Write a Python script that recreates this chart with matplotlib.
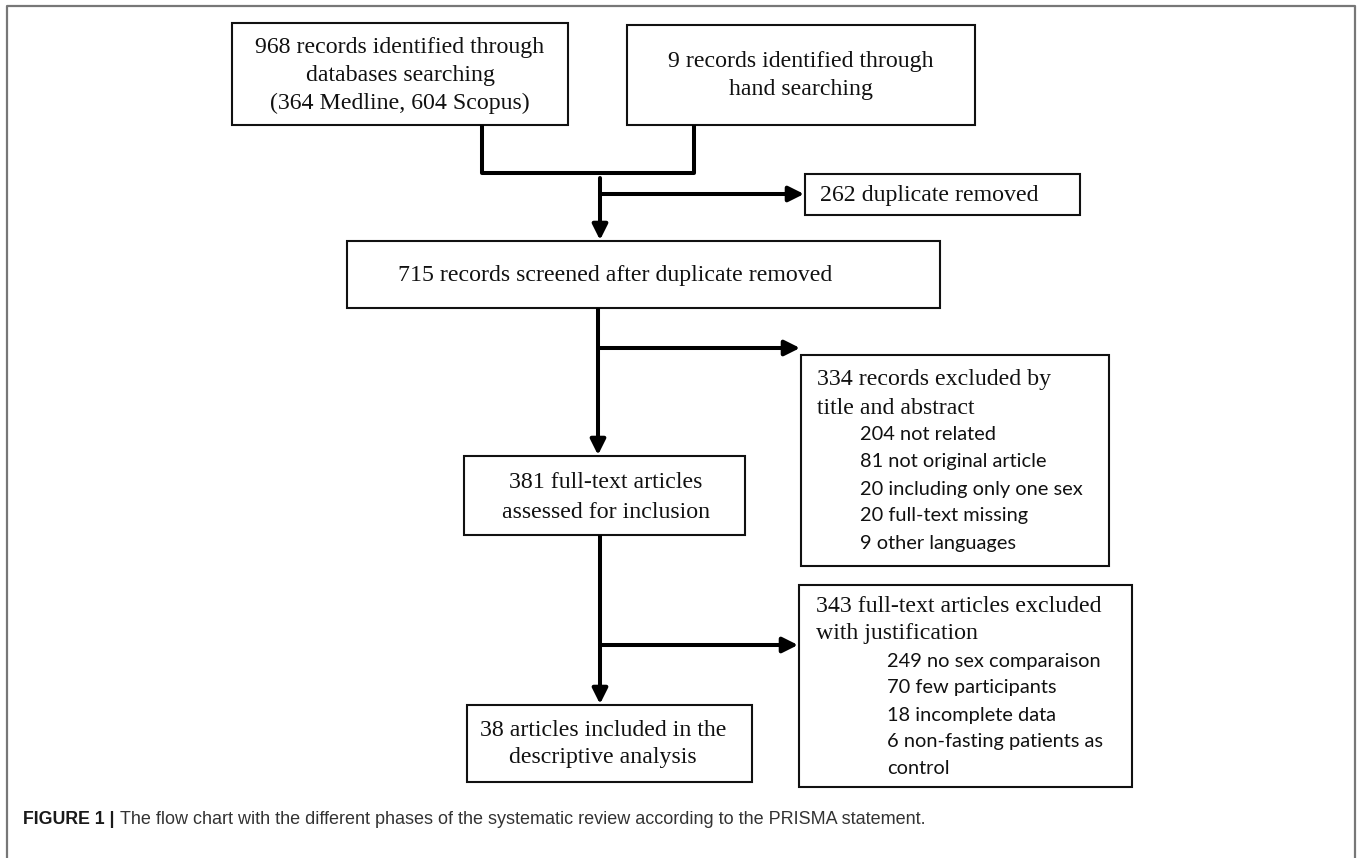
import matplotlib
matplotlib.use('Agg')
import matplotlib.pyplot as plt
from matplotlib.patches import Rectangle

# ---- content -------------------------------------------------------------
identified_db = ["968 records identified through", "databases searching",
                 "(364 Medline, 604 Scopus)"]
identified_hand = ["9 records identified through", "hand searching"]
duplicates = "262 duplicate removed"
screened = "715 records screened after duplicate removed"
fulltext = ["381 full-text articles", "assessed for inclusion"]
included = ["38 articles included in the", "descriptive analysis"]
excl1_head = ["334 records excluded by", "title and abstract"]
excl1_items = ["204 not related", "81 not original article",
               "20 including only one sex", "20 full-text missing",
               "9 other languages"]
excl2_head = ["343 full-text articles excluded", "with justification"]
excl2_items = ["249 no sex comparaison", "70 few participants",
               "18 incomplete data", "6 non-fasting patients as", "control"]
caption_bold = "FIGURE 1 |"
caption_text = ("The flow chart with the different phases of the systematic "
                "review according to the PRISMA statement.")

W, H = 1358, 858
fig = plt.figure(figsize=(W / 100, H / 100), dpi=100)
ax = fig.add_axes([0, 0, 1, 1])
ax.set_xlim(0, W); ax.set_ylim(H, 0); ax.axis('off')

SERIF = dict(family='Liberation Serif', fontsize=17.2, color='#111111')
SANS = dict(family='Lato', fontsize=14.4, color='#111111')


def box(x0, y0, x1, y1):
    ax.add_patch(Rectangle((x0, y0), x1 - x0, y1 - y0, fill=False,
                           lw=1.5, ec='#111111'))


def seg(xs, ys):
    ax.plot(xs, ys, color='black', lw=2.9, solid_capstyle='butt')


def arrow(x0, y0, x1, y1):
    ax.annotate('', xy=(x1, y1), xytext=(x0, y0),
                arrowprops=dict(arrowstyle='-|>', lw=2.9, color='black',
                                mutation_scale=23, shrinkA=0, shrinkB=0))


# outer frame (open at the bottom)
ax.plot([7, 7, 1355, 1355], [H, 6, 6, H], color='#777777', lw=1.6)

# boxes
box(232, 23, 568, 125)
box(627, 25, 975, 125)
box(805, 174, 1080, 215)
box(347, 241, 940, 308)
box(464, 456, 745, 535)
box(467, 705, 752, 782)
box(801, 355, 1109, 566)
box(799, 585, 1132, 787)

# connectors / arrows
seg([482, 482, 694, 694], [125, 173, 173, 125])
arrow(600, 178, 600, 240)
arrow(600, 194, 804, 194)
seg([598, 598], [308, 348])
arrow(598, 348, 598, 455)
arrow(598, 348, 800, 348)
seg([600, 600], [535, 645])
arrow(600, 645, 600, 704)
arrow(600, 645, 798, 645)

# box texts
for t, y in zip(identified_db, [48, 76, 103]):
    ax.text(400, y, t, ha='center', va='center', **SERIF)
for t, y in zip(identified_hand, [62, 90]):
    ax.text(801, y, t, ha='center', va='center', **SERIF)
ax.text(820, 196, duplicates, ha='left', va='center', **SERIF)
ax.text(615, 276, screened, ha='center', va='center', **SERIF)
for t, y in zip(fulltext, [482, 512]):
    ax.text(606, y, t, ha='center', va='center', **SERIF)
for t, y in zip(included, [730, 757]):
    ax.text(603, y, t, ha='center', va='center', **SERIF)
for t, y in zip(excl1_head, [380, 408]):
    ax.text(817, y, t, ha='left', va='center', **SERIF)
for t, y in zip(excl1_items, [435, 462, 489, 516, 543]):
    ax.text(860, y, t, ha='left', va='center', **SANS)
for t, y in zip(excl2_head, [607, 634]):
    ax.text(816, y, t, ha='left', va='center', **SERIF)
for t, y in zip(excl2_items, [662, 688, 716, 742, 768]):
    ax.text(887, y, t, ha='left', va='center', **SANS)

# caption
cb = ax.text(23, 819, caption_bold, ha='left', va='center', fontsize=12.8,
             family='Liberation Sans', fontweight='bold', color='#1a1a1a')
fig.canvas.draw()
bb = cb.get_window_extent()
ax.text(bb.x1 + 6, 819, caption_text, ha='left', va='center', fontsize=13,
        family='Liberation Sans', color='#333333')

fig.savefig('out.png', dpi=100)
